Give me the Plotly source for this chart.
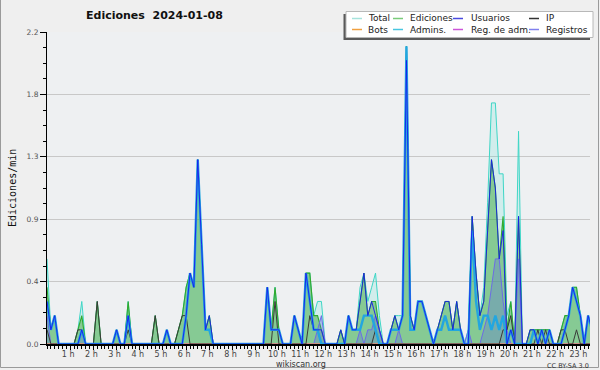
import plotly.graph_objects as go

# ---------------- data (edits per minute, one value per 10-minute slot) ----------------
SLOT_MINUTES = 10

TOTAL = [
    .6, .1, .2, 0, 0, 0, 0, 0, .1, .3, 0, 0,
    0, .3, 0, 0, 0, 0, .1, 0, 0, .3, 0, 0,
    0, 0, 0, 0, .2, 0, 0, .1, 0, 0, .1, .2,
    .4, .5, .4, 1.3, .7, .1, .2, 0, 0, 0, 0, 0,
    0, 0, 0, 0, 0, 0, 0, 0, 0, .4, .1, .4,
    .1, 0, 0, 0, .2, .1, 0, .5, .5, .2, .3, .3,
    0, 0, 0, 0, .1, 0, .2, .1, .1, .4, .5, .3,
    .4, .5, .2, 0, 0, .1, .2, .2, .2, 2.1, .2, .1,
    .3, .3, .2, .1, 0, .1, .2, .3, .3, .1, .3, .1,
    0, .1, .9, .5, .2, .4, 1.0, 1.7, 1.7, 1.2, 1.2, .2,
    .3, 0, 1.5, 0, 0, .1, .1, .1, .1, .1, .1, 0,
    0, .1, .2, .2, .4, .4, .2, 0, .2, .1,
]

EDICIONES = [
    .4, .1, .2, 0, 0, 0, 0, 0, .1, .2, 0, 0,
    0, .3, 0, 0, 0, 0, .1, 0, 0, .3, 0, 0,
    0, 0, 0, 0, .2, 0, 0, .1, 0, 0, .1, .2,
    .4, .5, .4, 1.3, .7, .1, .2, 0, 0, 0, 0, 0,
    0, 0, 0, 0, 0, 0, 0, 0, 0, .4, .1, .4,
    .1, 0, 0, 0, .2, .1, 0, .5, .5, .2, .2, .1,
    0, 0, 0, 0, .1, 0, .2, .1, .1, .3, .5, .2,
    .3, .3, .1, 0, 0, .1, .2, .1, .2, 2.1, .2, .1,
    .3, .3, .2, .1, 0, .1, .2, .3, .3, .1, .3, .1,
    0, 0, .9, .5, .2, .3, .8, 1.3, 1.1, .6, .9, .1,
    .3, 0, .9, 0, 0, .1, .1, .1, .1, .1, .1, 0,
    0, .1, .2, .2, .4, .4, .2, 0, .2, .1,
]

USUARIOS = [
    .3, .1, .2, 0, 0, 0, 0, 0, 0, .1, 0, 0,
    0, 0, 0, 0, 0, 0, .1, 0, 0, .2, 0, 0,
    0, 0, 0, 0, 0, 0, 0, .1, 0, 0, 0, 0,
    .2, .5, .4, 1.3, .7, .1, .2, 0, 0, 0, 0, 0,
    0, 0, 0, 0, 0, 0, 0, 0, 0, .4, .1, .1,
    .1, 0, 0, 0, .2, .1, 0, .5, .3, .1, .1, .1,
    0, 0, 0, 0, .1, 0, .2, .1, .1, .3, .5, .2,
    .3, .2, .1, 0, 0, .1, .2, .1, .2, 2.0, .2, .1,
    .3, .3, .2, .1, 0, .1, .2, .3, .3, .1, .3, .1,
    0, 0, .9, .5, .2, .3, .8, 1.3, 1.1, .6, .8, 0,
    .1, 0, .9, 0, 0, .1, .1, 0, .1, 0, .1, 0,
    0, 0, .1, .2, .4, .3, .2, 0, .2, .1,
]

IP = [
    .1, 0, 0, 0, 0, 0, 0, 0, .1, .1, 0, 0,
    0, .3, 0, 0, 0, 0, 0, 0, 0, .1, 0, 0,
    0, 0, 0, 0, .2, 0, 0, 0, 0, 0, .1, .2,
    .2, 0, 0, 0, 0, 0, 0, 0, 0, 0, 0, 0,
    0, 0, 0, 0, 0, 0, 0, 0, 0, 0, 0, .3,
    0, 0, 0, 0, 0, 0, 0, 0, .2, .1, .1, 0,
    0, 0, 0, 0, 0, 0, 0, 0, 0, 0, 0, 0,
    0, .1, 0, 0, 0, 0, 0, 0, 0, 0, 0, 0,
    0, 0, 0, 0, 0, 0, 0, 0, 0, 0, 0, 0,
    0, 0, 0, 0, 0, 0, 0, 0, 0, 0, .1, .1,
    .2, 0, 0, 0, 0, 0, 0, .1, 0, .1, 0, 0,
    0, .1, .1, 0, 0, .1, 0, 0, 0, 0,
]

BOTS = [
    0, 0, 0, 0, 0, 0, 0, 0, 0, 0, 0, 0,
    0, 0, 0, 0, 0, 0, 0, 0, 0, 0, 0, 0,
    0, 0, 0, 0, 0, 0, 0, 0, 0, 0, 0, 0,
    0, 0, 0, 0, 0, 0, 0, 0, 0, 0, 0, 0,
    0, 0, 0, 0, 0, 0, 0, 0, 0, 0, 0, 0,
    0, 0, 0, 0, 0, 0, 0, 0, 0, 0, 0, 0,
    0, 0, 0, 0, 0, 0, 0, 0, 0, 0, 0, 0,
    0, 0, 0, 0, 0, 0, 0, 0, 0, 0, 0, 0,
    0, 0, 0, 0, 0, 0, 0, 0, 0, 0, 0, 0,
    0, 0, 0, 0, 0, 0, 0, 0, 0, 0, 0, 0,
    0, 0, 0, 0, 0, 0, 0, 0, 0, 0, 0, 0,
    0, 0, 0, 0, 0, 0, 0, 0, 0, 0,
]

ADMINS = [
    .3, .1, .2, 0, 0, 0, 0, 0, 0, .1, 0, 0,
    0, 0, 0, 0, 0, 0, .1, 0, 0, .2, 0, 0,
    0, 0, 0, 0, 0, 0, 0, .1, 0, 0, 0, 0,
    .2, .5, .4, 1.3, .7, .1, .1, 0, 0, 0, 0, 0,
    0, 0, 0, 0, 0, 0, 0, 0, 0, .4, .1, .1,
    .1, 0, 0, 0, .2, .1, 0, .5, .3, .1, .1, 0,
    0, 0, 0, 0, 0, 0, .2, .1, .1, .1, .2, .2,
    .2, .1, 0, 0, 0, .1, .1, .1, .2, 2.1, .1, .1,
    .3, .3, .2, .1, 0, .1, .1, .2, .1, .1, .1, .1,
    0, 0, .8, .3, .1, .2, .2, .1, .2, .1, .2, 0,
    .1, 0, 0, 0, 0, 0, .1, 0, .1, 0, .1, 0,
    0, 0, .1, .2, .4, .3, .2, 0, .2, .1,
]

REG_ADM = list(BOTS)

REGISTROS = [
    .2, 0, 0, 0, 0, 0, 0, 0, 0, .1, 0, 0,
    0, 0, 0, 0, 0, 0, 0, 0, 0, 0, 0, 0,
    0, 0, 0, 0, 0, 0, 0, 0, 0, 0, 0, 0,
    0, 0, 0, 0, 0, 0, 0, 0, 0, 0, 0, 0,
    0, 0, 0, 0, 0, 0, 0, 0, 0, 0, 0, 0,
    0, 0, 0, 0, 0, 0, 0, 0, 0, 0, .1, .2,
    0, 0, 0, 0, 0, 0, 0, 0, 0, .1, 0, .1,
    .1, .2, .1, 0, 0, 0, 0, .1, 0, 0, 0, 0,
    0, 0, 0, 0, 0, 0, 0, 0, 0, 0, 0, 0,
    0, .1, 0, 0, 0, .1, .2, .4, .6, .6, .3, .1,
    0, 0, .6, 0, 0, 0, 0, 0, 0, 0, 0, 0,
    0, 0, 0, 0, 0, 0, 0, 0, 0, 0,
]

HOUR_TICKS = [1, 2, 3, 4, 5, 6, 7, 8, 9, 10, 11, 12, 13, 14, 15, 16, 17, 18, 19, 20, 21, 22, 23]
HOUR_LABELS = ["1 h", "2 h", "3 h", "4 h", "5 h", "6 h", "7 h", "8 h", "9 h", "10 h", "11 h", "12 h",
               "13 h", "14 h", "15 h", "16 h", "17 h", "18 h", "19 h", "20 h", "21 h", "22 h", "23 h"]
Y_TICKS = [0, 0.44, 0.88, 1.32, 1.76, 2.2]
Y_LABELS = ["0.0", "0.4", "0.9", "1.3", "1.8", "2.2"]

LEGEND_ROWS = [
    [("Total", "#a6e3dc"), ("Ediciones", "#7acb7a"), ("Usuarios", "#4a4ae0"), ("IP", "#333333")],
    [("Bots", "#f0a040"), ("Admins.", "#48c6e0"), ("Reg. de adm.", "#cc55d8"), ("Registros", "#8080ee")],
]

# ---------------- geometry ----------------
W, H = 600, 370
ML, MR, MT, MB = 47, 10, 32, 26
PW, PH = W - ML - MR, H - MT - MB
X_MAX = 23.415

FONT = "DejaVu Sans, sans-serif"


def px(x):
    return (x - ML) / PW


def py(y):
    return (H - MB - y) / PH


hours = [i * SLOT_MINUTES / 60 for i in range(len(TOTAL))]

fig = go.Figure()


def add(values, color, width, fill=None):
    fig.add_trace(go.Scatter(
        x=hours, y=values, mode="lines",
        line=dict(color=color, width=width),
        fill="tozeroy" if fill else None,
        fillcolor=fill,
        showlegend=False, hoverinfo="skip",
    ))


add(TOTAL, "#3ed6c6", 1.0, "rgba(64,224,208,0.16)")
add(EDICIONES, "#2faa2f", 1.1, "rgba(60,168,60,0.5)")
add(REGISTROS, "#6c6ce6", 1.0, "rgba(90,110,220,0.32)")
add(REG_ADM, "#cc55d8", 1)
add(BOTS, "#f0a040", 1)
add(IP, "#3a3a3a", 1.0)
add(ADMINS, "#22a6e0", 2.4)
add(USUARIOS, "#1a1aee", 0.9)

shapes = []
annotations = []

# outer frame
shapes.append(dict(type="rect", xref="paper", yref="paper",
                   x0=px(0.5), x1=px(598.5), y0=py(367.5), y1=py(-3),
                   line=dict(color="#9a9a9a", width=1), layer="above"))

# legend box with shadow
shapes.append(dict(type="rect", xref="paper", yref="paper",
                   x0=px(343.5), x1=px(590), y0=py(40), y1=py(14),
                   fillcolor="#5a5a5a", line=dict(width=0), layer="above"))
shapes.append(dict(type="rect", xref="paper", yref="paper",
                   x0=px(346), x1=px(593), y0=py(37.5), y1=py(11.5),
                   fillcolor="#ffffff", line=dict(color="#b8b8b8", width=1), layer="above"))

col_sw = [352, 393, 453, 529]
col_tx = [366, 408, 469, 544]
row_y = [18.5, 29.5]
for r, row in enumerate(LEGEND_ROWS):
    for c, (name, color) in enumerate(row):
        shapes.append(dict(type="line", xref="paper", yref="paper",
                           x0=px(col_sw[c]), x1=px(col_sw[c] + 10),
                           y0=py(row_y[r]), y1=py(row_y[r]),
                           line=dict(color=color, width=1.5), layer="above"))
        annotations.append(dict(text=name, xref="paper", yref="paper",
                                x=px(col_tx[c]), y=py(row_y[r]), xanchor="left", yanchor="middle",
                                showarrow=False, font=dict(family=FONT, size=9, color="#222222")))

# title
annotations.append(dict(text="Ediciones\u00a0\u00a02024-01-08", xref="paper", yref="paper",
                        x=px(154), y=py(16), xanchor="center", yanchor="middle", showarrow=False,
                        font=dict(family="DejaVu Sans", size=11, color="#111111", weight="bold")))
# y title
annotations.append(dict(text="Ediciones/min", xref="paper", yref="paper",
                        x=px(12), y=py(188), xanchor="center", yanchor="middle", showarrow=False,
                        textangle=-90, font=dict(family="DejaVu Sans Mono", size=10, color="#111111")))
# footer texts
annotations.append(dict(text="wikiscan.org", xref="paper", yref="paper",
                        x=px(301), y=py(364), xanchor="center", yanchor="middle", showarrow=False,
                        font=dict(family=FONT, size=8, color="#333333")))
annotations.append(dict(text="CC BY-SA 3.0", xref="paper", yref="paper",
                        x=px(591), y=py(365.5), xanchor="right", yanchor="middle", showarrow=False,
                        font=dict(family=FONT, size=6.5, color="#333333")))

fig.update_layout(
    width=W, height=H,
    margin=dict(l=ML, r=MR, t=MT, b=MB, pad=0),
    paper_bgcolor="#efefef",
    plot_bgcolor="#eef0f2",
    shapes=shapes,
    annotations=annotations,
    xaxis=dict(
        range=[0, X_MAX], tickmode="array", tickvals=HOUR_TICKS, ticktext=HOUR_LABELS,
        ticks="outside", ticklen=4, tickwidth=1, tickcolor="#000000",
        ticklabelstandoff=-3, ticklabelshift=-2,
        showline=True, linecolor="#000000", linewidth=2,
        showgrid=False, zeroline=False,
        tickfont=dict(family=FONT, size=8, color="#444444"),
        minor=dict(dtick=1 / 6, tick0=0, ticks="outside", ticklen=3, tickcolor="#000000", showgrid=False),
        fixedrange=True,
    ),
    yaxis=dict(
        range=[0, 2.2], tickmode="array", tickvals=Y_TICKS, ticktext=Y_LABELS,
        ticks="outside", ticklen=6, tickwidth=1, tickcolor="#000000",
        showline=True, linecolor="#000000", linewidth=1,
        showgrid=True, gridcolor="#c8c8c8", gridwidth=1, zeroline=False,
        tickfont=dict(family=FONT, size=7.5, color="#555555"),
        minor=dict(dtick=0.11, tick0=0, ticks="outside", ticklen=3, tickcolor="#000000", showgrid=False),
        fixedrange=True,
    ),
)

fig.write_html("out.html", config={"displayModeBar": False},
               post_script="document.body.style.margin='0';document.body.style.padding='0';")
